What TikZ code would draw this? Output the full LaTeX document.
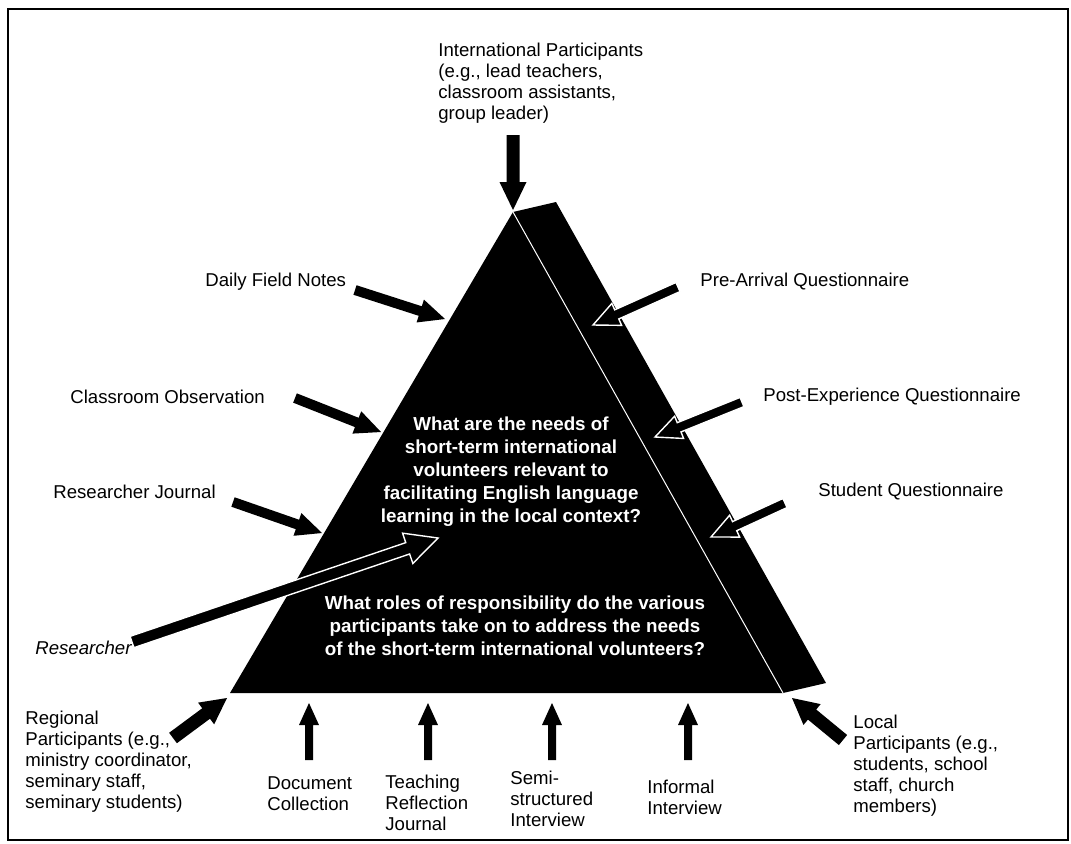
\documentclass[tikz,border=0pt]{standalone}
\usepackage{fontspec}
\setmainfont{Liberation Sans}
\usetikzlibrary{calc}

% fat arrow as a polygon: [style]{tail}{tip}{half shaft}{half head}{head length}
\newcommand{\fatarrow}[6][]{%
  \coordinate (neck) at ($(#3)!#6!(#2)$);
  \filldraw[#1] ($(#2)!#4!90:(#3)$) -- ($(neck)!#4!-90:(#2)$)
    -- ($(neck)!#5!-90:(#2)$) -- (#3) -- ($(neck)!#5!90:(#2)$)
    -- ($(neck)!#4!90:(#2)$) -- ($(#2)!#4!-90:(#3)$) -- cycle;}

\begin{document}
\begin{tikzpicture}[x=0.5pt, y=-0.5pt,
    lbl/.style = {anchor=north west, inner sep=0pt, align=left,
                  font=\fontsize{9.3}{10.5}\selectfont},
    question/.style = {anchor=north, inner sep=0pt, align=center, text=white,
                  font=\fontsize{9.4}{11.5}\selectfont\bfseries},
    blackarrow/.style = {fill=black, draw=none},
    hollowarrow/.style = {fill=black, draw=white, line width=0.7pt},
                        ]
\useasboundingbox (0,0) rectangle (1071,843);
\draw[line width=1pt] (8,9) rectangle (1068,840);

% pyramid with its dark side
\coordinate (apex) at (513,212);
\coordinate (bl) at (230,693);
\coordinate (br) at (783,693);
\fill (apex) -- ++(43,-10) -- ($(br)+(43,-10)$) -- (br) -- cycle;
\fill (apex) -- (br) -- (bl) -- cycle;
\draw[white, line width=0.5pt] (apex) -- (br);

% questions
\node[question] (q1) at (511,416) {What are the needs of\\short-term international\\volunteers relevant to\\facilitating English language\\learning in the local context?};
\node[question] (q2) at (515,595) {What roles of responsibility do the various\\participants take on to address the needs\\of the short-term international volunteers?};

% labels
\node[lbl] (intl) at (438,43) {International Participants\\(e.g., lead teachers,\\classroom assistants,\\group leader)};
\node[lbl] (daily) at (205,273) {Daily Field Notes};
\node[lbl] (classobs) at (70,390) {Classroom Observation};
\node[lbl] (resjournal) at (53,485) {Researcher Journal};
\node[lbl, font=\fontsize{9.3}{10.5}\selectfont\itshape] (researcher) at (35,641) {Researcher};
\node[lbl] (prearr) at (700,273) {Pre-Arrival Questionnaire};
\node[lbl] (postexp) at (763,388) {Post-Experience Questionnaire};
\node[lbl] (studq) at (818,483) {Student Questionnaire};
\node[lbl] (regional) at (25,711) {Regional\\Participants (e.g.,\\ministry coordinator,\\seminary staff,\\seminary students)};
\node[lbl] (local) at (853,715) {Local\\Participants (e.g.,\\students, school\\staff, church\\members)};
\node[lbl] (doccoll) at (267,776) {Document\\Collection};
\node[lbl] (teachref) at (385,775) {Teaching\\Reflection\\Journal};
\node[lbl] (semistr) at (510,771) {Semi-\\structured\\Interview};
\node[lbl] (informal) at (647,780) {Informal\\Interview};

% arrow ends
\coordinate (intlS) at (513,135);        \coordinate (intlE) at (513,210);
\coordinate (dailyS) at (355,290);       \coordinate (dailyE) at (445,319);
\coordinate (classobsS) at (295,398);    \coordinate (classobsE) at (381,432);
\coordinate (resjournalS) at (233,502);  \coordinate (resjournalE) at (322,533);
\coordinate (researcherS) at (132,642);  \coordinate (researcherE) at (438,538);
\coordinate (regionalS) at (173,738);    \coordinate (regionalE) at (227,698);
\coordinate (localS) at (843,740);       \coordinate (localE) at (792,698);
\coordinate (prearrS) at (678,287);      \coordinate (prearrE) at (593,325);
\coordinate (postexpS) at (742,402);     \coordinate (postexpE) at (655,437);
\coordinate (studqS) at (785,503);       \coordinate (studqE) at (711,537);

\fatarrow[blackarrow]{intlS}{intlE}{3.25pt}{6.75pt}{14pt}
\foreach \a in {daily,classobs,resjournal}{
  \fatarrow[blackarrow]{\a S}{\a E}{2.5pt}{6pt}{13pt}
}
\foreach \a in {regional,local}{
  \fatarrow[blackarrow]{\a S}{\a E}{3.25pt}{6.75pt}{13pt}
}
\fatarrow[hollowarrow]{researcherS}{researcherE}{3pt}{8pt}{16pt}
\foreach \a in {prearr,postexp,studq}{
  \fatarrow[hollowarrow]{\a S}{\a E}{2.5pt}{6pt}{13pt}
}

% method arrows under the base
\foreach \n/\x in {doccoll/309,teachref/428,semistr/552,informal/688}{
  \coordinate (\n S) at (\x,760);
  \coordinate (\n E) at (\x,703);
  \fatarrow[blackarrow]{\n S}{\n E}{2pt}{5pt}{11pt}
}
\end{tikzpicture}
\end{document}
